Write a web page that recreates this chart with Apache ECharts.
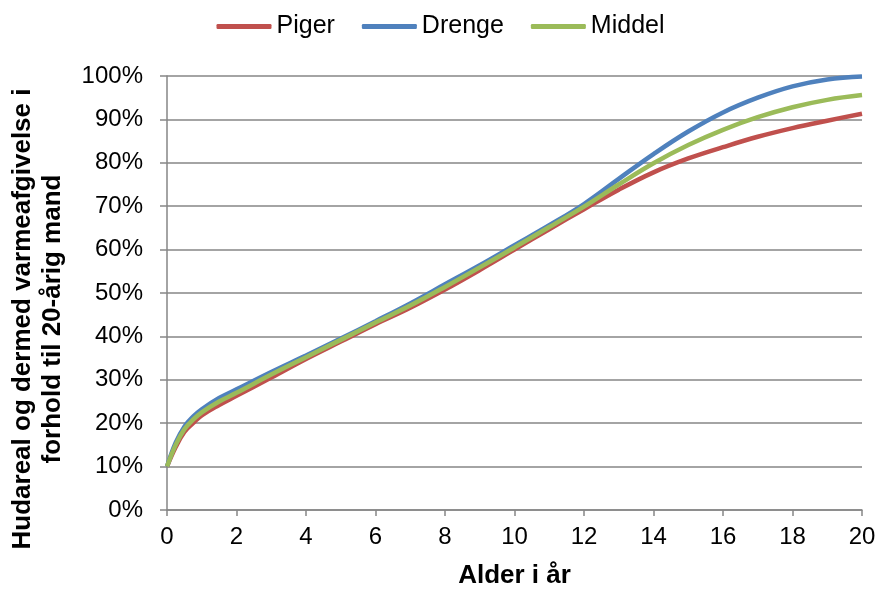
<!DOCTYPE html>
<html><head><meta charset="utf-8">
<script src="https://cdn.jsdelivr.net/npm/echarts@6/dist/echarts.min.js"></script>
<style>html,body{margin:0;padding:0;background:#fff}#c{width:881px;height:594px}</style>
</head><body><div id="c"></div>
<script>
const ages = [0,0.25,0.5,0.75,1,1.5,2,3,4,5,6,7,8,9,10,11,12,13,14,15,16,17,18,19,20];
const piger = [10,14.5,18,20,21.8,24.2,26.3,30.5,34.8,38.8,42.8,46.6,50.8,55.3,60,64.7,69.3,73.8,77.8,81,83.6,86,88,89.7,91.3];
const drenge = [10,15.5,19.2,21.5,23.2,25.8,27.8,31.8,35.6,39.5,43.5,47.6,52,56.4,61,65.6,70.5,76.3,82,87.2,91.6,95,97.6,99.2,99.9];
const middel = [10,15,18.6,20.8,22.5,25,27,31.2,35.2,39.2,43.2,47.1,51.4,55.9,60.5,65.2,69.9,75,79.9,84.1,87.6,90.5,92.8,94.5,95.6];
const seriesNames = ['Piger','Drenge','Middel'];
const yTitle = 'Hudareal og dermed varmeafgivelse i\nforhold til 20-årig mand';
const xTitle = 'Alder i år';
const colors = ['#C0504D','#4F81BD','#9BBB59'];
const font = 'Liberation Sans, Arial, sans-serif';
const chart = echarts.init(document.getElementById('c'));
const mk = (arr)=>ages.map((a,i)=>[a,arr[i]]);
chart.setOption({
  animation:false,
  color:colors,
  legend:{top:9,left:'center',itemWidth:55,itemHeight:5,itemGap:27,icon:'roundRect',
    textStyle:{fontFamily:font,fontSize:25,color:'#000'},data:seriesNames},
  grid:{left:167,right:19,top:76,bottom:81,containLabel:false},
  graphic:[{type:'text',x:38,y:319,rotation:Math.PI/2,
    style:{text:yTitle,font:'bold 26px '+font,fill:'#000',align:'center',verticalAlign:'middle',lineHeight:30}}],
  xAxis:{type:'value',min:0,max:20,interval:2,
    name:xTitle,nameLocation:'middle',nameGap:53,
    nameTextStyle:{fontFamily:font,fontSize:26,fontWeight:'bold',color:'#000'},
    axisLine:{lineStyle:{color:'#868686',width:1.5}},
    axisTick:{show:true,length:6,lineStyle:{color:'#868686',width:1.5}},
    axisLabel:{fontFamily:font,fontSize:24,color:'#000',margin:15},
    splitLine:{show:false}},
  yAxis:{type:'value',min:0,max:100,interval:10,
    axisLine:{show:true,lineStyle:{color:'#868686',width:1.5}},
    axisTick:{show:true,length:7,lineStyle:{color:'#868686',width:1.5}},
    axisLabel:{fontFamily:font,fontSize:24,color:'#000',margin:24,formatter:v=>v+'%'},
    splitLine:{lineStyle:{color:'#868686',width:1.5}}},
  series:[
    {name:'Piger',type:'line',data:mk(piger),smooth:0.4,showSymbol:false,lineStyle:{width:4.5,color:colors[0]}},
    {name:'Drenge',type:'line',data:mk(drenge),smooth:0.4,showSymbol:false,lineStyle:{width:4.5,color:colors[1]}},
    {name:'Middel',type:'line',data:mk(middel),smooth:0.4,showSymbol:false,lineStyle:{width:4.5,color:colors[2]}}
  ]
});
</script></body></html>
